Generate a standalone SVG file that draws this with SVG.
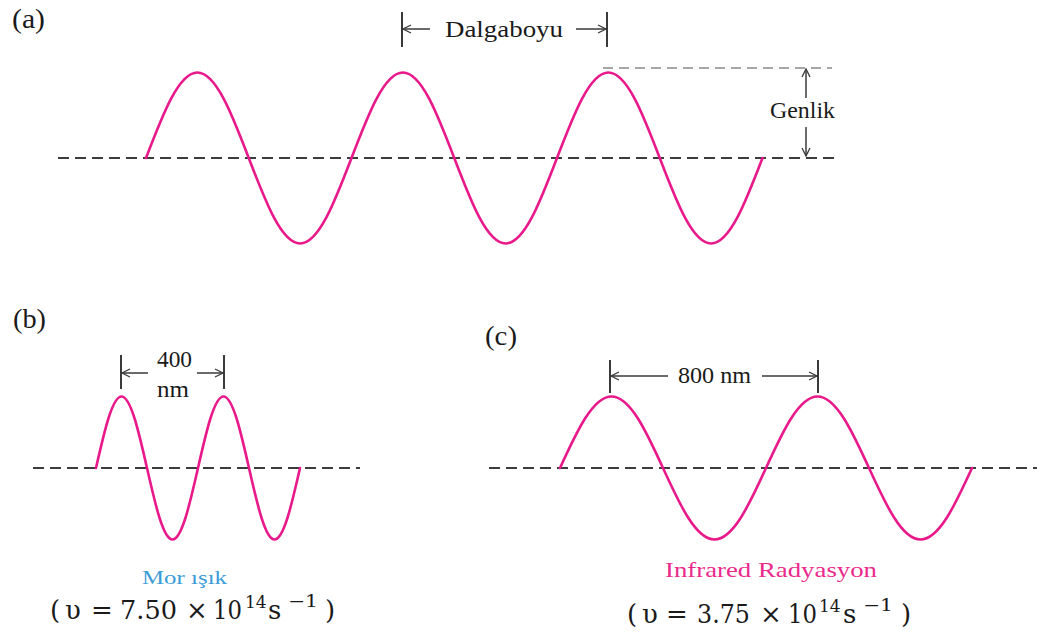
<svg xmlns="http://www.w3.org/2000/svg" width="1042" height="641" viewBox="0 0 1042 641">
<style>
.bg{fill:#ffffff}
.axis{stroke:#3c3c3c;stroke-width:2;stroke-dasharray:11 6;fill:none}
.axis2{stroke:#a6a6a6;stroke-width:2;stroke-dasharray:10 6;fill:none}
.wave{stroke:#e8198b;stroke-width:2.6;fill:none;stroke-linecap:round}
.bar{stroke:#3a3a3a;stroke-width:2;fill:none}
.dim{stroke:#3a3a3a;stroke-width:1.5;fill:none;marker-end:url(#arr)}
.lbl{font-family:"Liberation Serif","Times New Roman",serif;fill:#1a1a1a}
.math{font-family:"DejaVu Serif","Liberation Serif",serif;fill:#1a1a1a;font-size:26px}
.sup{font-size:17px}
</style>
<defs>
<marker id="arr" markerUnits="userSpaceOnUse" markerWidth="12" markerHeight="10" refX="9" refY="5" orient="auto">
<path d="M1,1 L9,5 L1,9" fill="none" stroke="#3a3a3a" stroke-width="1.3"/>
</marker>
</defs>
<rect class="bg" x="0" y="0" width="1042" height="641"/>

<g id="panel-a">
<text class="lbl" x="12" y="28" font-size="27" textLength="33" lengthAdjust="spacingAndGlyphs">(a)</text>
<line class="axis" x1="58" y1="158" x2="838" y2="158"/>
<line class="axis2" x1="603" y1="68" x2="832" y2="68"/>
<path class="wave" d="M146,158 C162.75,114.2 178.78,72.5 197.375,72.5 C215.98,72.5 232,114.2 248.75,158 C265.5,201.8 281.53,243.5 300.125,243.5 C318.73,243.5 334.75,201.8 351.5,158 C368.25,114.2 384.28,72.5 402.875,72.5 C421.48,72.5 437.5,114.2 454.25,158 C471,201.8 487.03,243.5 505.625,243.5 C524.23,243.5 540.25,201.8 557,158 C573.75,114.2 589.78,72.5 608.375,72.5 C626.98,72.5 643,114.2 659.75,158 C676.5,201.8 692.53,243.5 711.125,243.5 C729.73,243.5 745.75,201.8 762.5,158"/>
<g id="dalgaboyu">
<line class="bar" x1="402" y1="12" x2="402" y2="47"/>
<line class="bar" x1="607" y1="12" x2="607" y2="47"/>
<line class="dim" x1="430" y1="29" x2="403" y2="29"/>
<line class="dim" x1="576" y1="29" x2="606" y2="29"/>
<text class="lbl" x="445" y="37" font-size="24" textLength="118" lengthAdjust="spacingAndGlyphs">Dalgaboyu</text>
</g>
<g id="genlik">
<line class="dim" x1="806" y1="98" x2="806" y2="69"/>
<line class="dim" x1="806" y1="127" x2="806" y2="156"/>
<text class="lbl" x="770" y="118" font-size="24" textLength="65" lengthAdjust="spacingAndGlyphs">Genlik</text>
</g>
</g>

<g id="panel-b">
<text class="lbl" x="13" y="328" font-size="27" textLength="33" lengthAdjust="spacingAndGlyphs">(b)</text>
<line class="axis" x1="33" y1="468" x2="360" y2="468"/>
<path class="wave" d="M96,468 C104.32,431.37 112.27,396.5 121.5,396.5 C130.73,396.5 138.68,431.37 147,468 C155.32,504.63 163.27,539.5 172.5,539.5 C181.73,539.5 189.68,504.63 198,468 C206.32,431.37 214.27,396.5 223.5,396.5 C232.73,396.5 240.68,431.37 249,468 C257.32,504.63 265.27,539.5 274.5,539.5 C283.73,539.5 291.68,504.63 300,468"/>
<g id="dim-400">
<line class="bar" x1="121" y1="355" x2="121" y2="389"/>
<line class="bar" x1="224" y1="355" x2="224" y2="389"/>
<line class="dim" x1="148" y1="373" x2="122" y2="373"/>
<line class="dim" x1="197" y1="373" x2="223" y2="373"/>
<text class="lbl" x="157" y="367" font-size="24" textLength="35" lengthAdjust="spacingAndGlyphs">400</text>
<text class="lbl" x="157" y="397" font-size="24" textLength="32" lengthAdjust="spacingAndGlyphs">nm</text>
</g>
<text class="lbl" x="142" y="584" font-size="19" style="fill:#3a9cd8" textLength="85" lengthAdjust="spacingAndGlyphs">Mor ışık</text>
<text class="math" y="619"><tspan x="50">(</tspan><tspan x="65">υ</tspan><tspan x="91">=</tspan><tspan x="120" textLength="57" lengthAdjust="spacingAndGlyphs">7.50</tspan><tspan x="186">×</tspan><tspan x="213" textLength="29" lengthAdjust="spacingAndGlyphs">10</tspan><tspan class="sup" x="245" y="608">14</tspan><tspan x="268" y="619">s</tspan><tspan class="sup" x="288" y="607" textLength="30" lengthAdjust="spacingAndGlyphs">−1</tspan><tspan x="325" y="619">)</tspan></text>
</g>

<g id="panel-c">
<text class="lbl" x="485" y="345" font-size="27" textLength="32" lengthAdjust="spacingAndGlyphs">(c)</text>
<line class="axis" x1="489" y1="468" x2="1037" y2="468"/>
<path class="wave" d="M560,468 C576.79,431.37 592.86,396.5 611.5,396.5 C630.14,396.5 646.21,431.37 663,468 C679.79,504.63 695.86,539.5 714.5,539.5 C733.14,539.5 749.21,504.63 766,468 C782.79,431.37 798.86,396.5 817.5,396.5 C836.14,396.5 852.21,431.37 869,468 C885.79,504.63 901.86,539.5 920.5,539.5 C939.14,539.5 955.21,504.63 972,468"/>
<g id="dim-800">
<line class="bar" x1="610" y1="360" x2="610" y2="393"/>
<line class="bar" x1="818" y1="360" x2="818" y2="393"/>
<line class="dim" x1="668" y1="376" x2="611" y2="376"/>
<line class="dim" x1="762" y1="376" x2="817" y2="376"/>
<text class="lbl" x="678" y="383" font-size="24" textLength="73" lengthAdjust="spacingAndGlyphs">800 nm</text>
</g>
<text class="lbl" x="665" y="577" font-size="22" style="fill:#ea2a8c" textLength="212" lengthAdjust="spacingAndGlyphs">Infrared Radyasyon</text>
<text class="math" y="623"><tspan x="627">(</tspan><tspan x="642">υ</tspan><tspan x="666">=</tspan><tspan x="697" textLength="53" lengthAdjust="spacingAndGlyphs">3.75</tspan><tspan x="760">×</tspan><tspan x="788" textLength="29" lengthAdjust="spacingAndGlyphs">10</tspan><tspan class="sup" x="819" y="612">14</tspan><tspan x="843" y="623">s</tspan><tspan class="sup" x="863" y="611" textLength="30" lengthAdjust="spacingAndGlyphs">−1</tspan><tspan x="901" y="623">)</tspan></text>
</g>
</svg>
